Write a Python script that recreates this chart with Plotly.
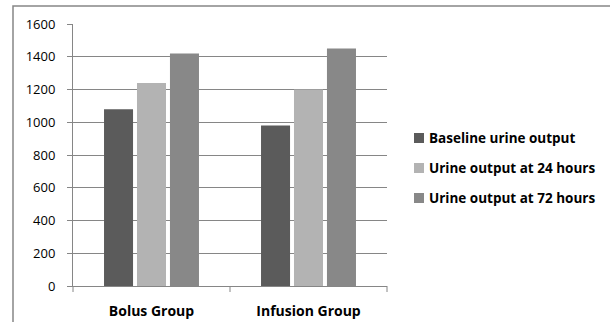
import plotly.graph_objects as go

categories = ["Bolus Group", "Infusion Group"]
series_names = ["Baseline urine output", "Urine output at 24 hours", "Urine output at 72 hours"]
baseline = [1080, 980]
at24 = [1240, 1200]
at72 = [1420, 1450]
y_ticks = [0, 200, 400, 600, 800, 1000, 1200, 1400, 1600]

colors = ["#5b5b5b", "#b3b3b3", "#888888"]

fig = go.Figure()
for name, vals, c in zip(series_names, [baseline, at24, at72], colors):
    fig.add_trace(go.Bar(x=categories, y=vals, name=name, marker=dict(color=c, line=dict(width=0)),
                         showlegend=False))

L, R, T, B = 73, 223, 24, 36
W, H = 610, 322
pw, ph = W - L - R, H - T - B

def px_x(x):
    return (x - L) / pw

def px_y(y):
    return (H - B - y) / ph

fig.update_layout(
    width=W, height=H,
    margin=dict(l=L, r=R, t=T, b=B, autoexpand=False),
    paper_bgcolor="white", plot_bgcolor="white",
    barmode="group", bargap=0.37, bargroupgap=0.12,
    font=dict(family="Open Sans", size=13, color="#000000"),
    showlegend=False,
    xaxis=dict(showgrid=False, showline=True, linecolor="#868686", linewidth=1,
               ticks="outside", ticklen=0, ticklabelstandoff=12, automargin=False,
               tickfont=dict(family="Open Sans", size=14, weight="bold"),
               fixedrange=True),
    yaxis=dict(range=[0, 1600], tickvals=y_ticks, showgrid=True, gridcolor="#868686", gridwidth=1,
               showline=True, linecolor="#868686", linewidth=1, ticks="outside", ticklen=5,
               tickcolor="#868686", zeroline=False, ticklabelstandoff=9, automargin=False,
               tickfont=dict(family="Open Sans", size=13)),
)

# category dividing ticks on the x axis
for xp in [0, 0.5, 1.0]:
    fig.add_shape(type="line", xref="paper", yref="paper", x0=xp, x1=xp, y0=0, y1=-6 / ph,
                  line=dict(color="#868686", width=1))

# legend drawn manually to match the original layout
legend_rows = [138, 168, 198]
for name, c, yc in zip(series_names, colors, legend_rows):
    fig.add_shape(type="rect", xref="paper", yref="paper",
                  x0=px_x(414), x1=px_x(424), y0=px_y(yc + 5), y1=px_y(yc - 5),
                  line=dict(width=0), fillcolor=c)
    fig.add_annotation(xref="paper", yref="paper", x=px_x(427), y=px_y(yc),
                       xanchor="left", yanchor="middle", showarrow=False, text=name,
                       font=dict(family="Open Sans", size=13.5, weight="bold", color="#000000"))

# outer chart border
fig.add_shape(type="rect", xref="paper", yref="paper",
              x0=px_x(13), x1=px_x(614), y0=px_y(H + 5), y1=px_y(6),
              line=dict(color="#868686", width=1.5), fillcolor="rgba(0,0,0,0)", layer="below")

fig.write_html("out.html", config={"displayModeBar": False},
               post_script="document.body.style.margin='0';")
